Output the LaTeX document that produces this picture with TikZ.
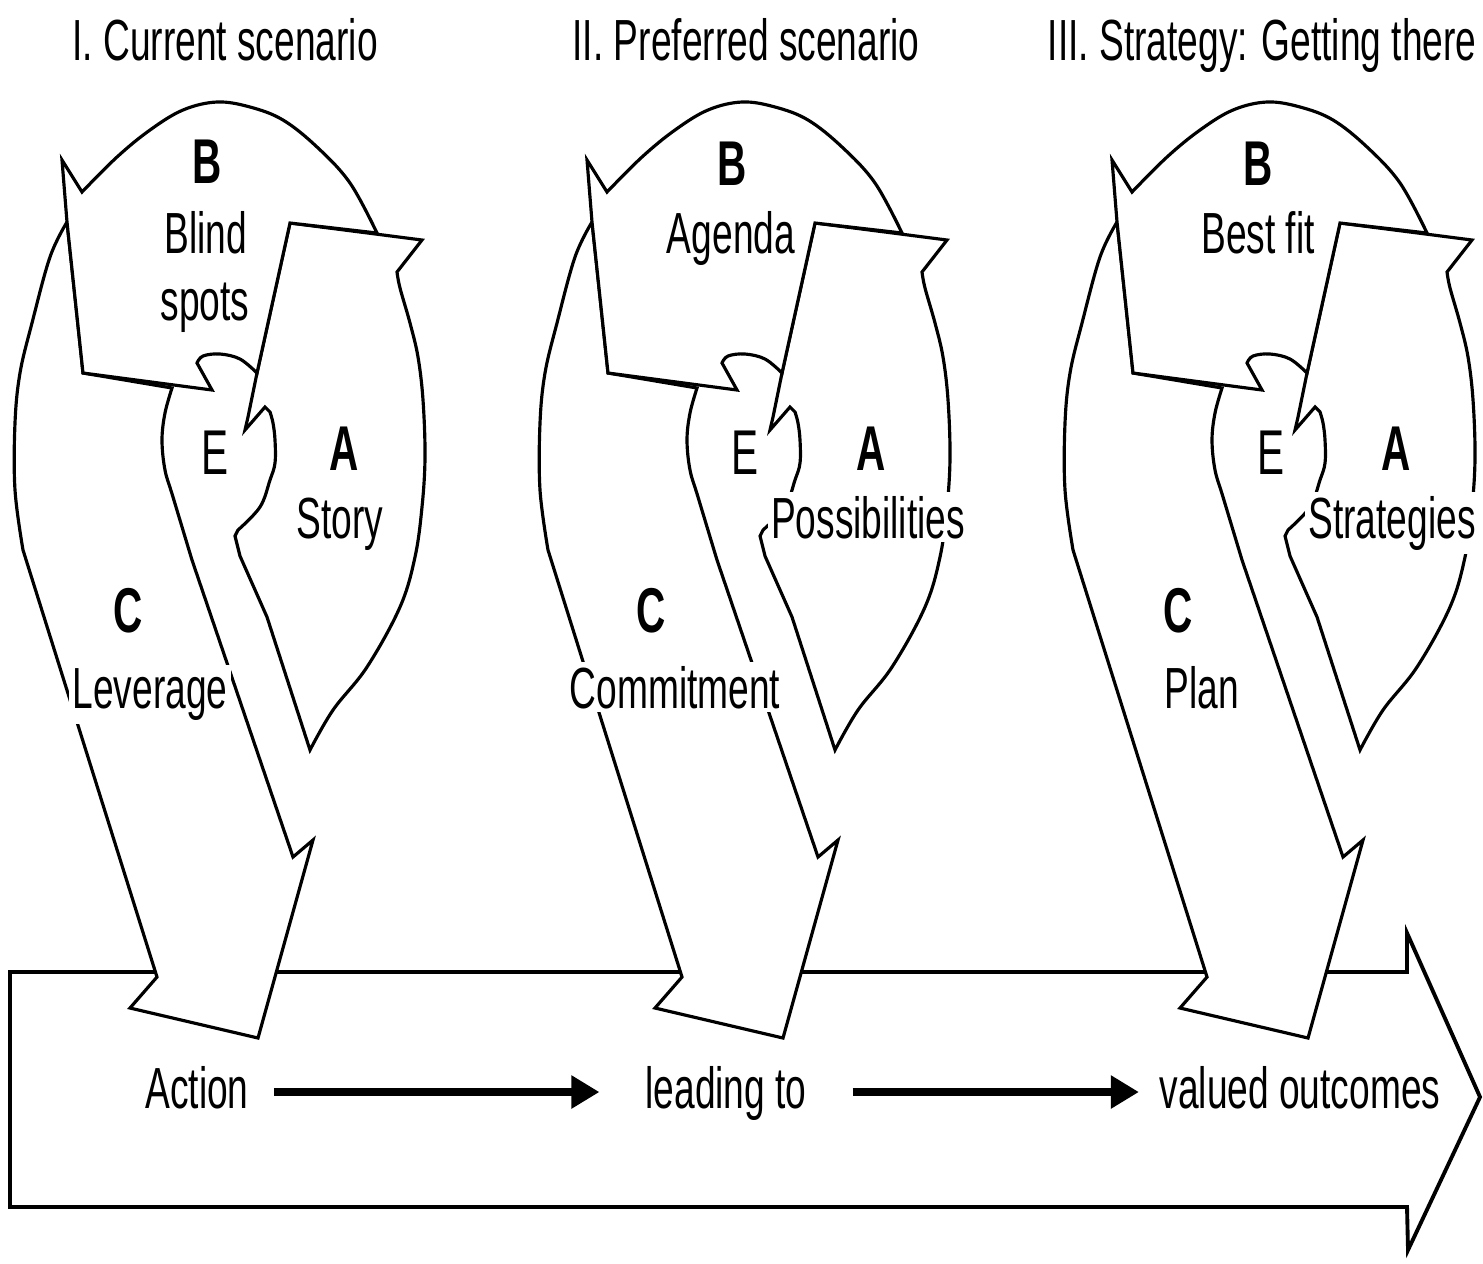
\documentclass[tikz,border=0pt]{standalone}
\usepackage{fontspec}
\setmainfont{Liberation Sans}
\newfontfamily\cnd[FakeStretch=0.64]{Liberation Sans}
\usetikzlibrary{arrows.meta}
\newcommand\egpanel[1]{%
\begin{scope}[shift={(#1,0)}]
% C arrow
\path[shp] plot[smooth,tension=0.6] coordinates {(67,222) (50,257) (32,323) (20,373) (15,423) (15,490) (23,550)}
  -- (157,977) -- (130,1008) -- (258,1038) -- (313,840) -- (293,857)
  -- plot[smooth,tension=0.6] coordinates {(192,560) (173,497) (165,470) (162,440) (165,413) (172,388)}
  -- (83,373) -- cycle;
% A arrow
\path[shp] plot[smooth,tension=0.6] coordinates {(310,750) (333,710) (367,667) (400,607) (415,557) (422,507) (425,457) (423,400) (418,357) (410,323) (400,288) (397,272)}
  -- (422,240) -- (290,223) -- (257,373) -- (248,417) -- (245,430) -- (265,407)
  -- plot[smooth,tension=0.6] coordinates {(270,412) (273,423) (275,440) (275,463) (270,480) (260,507) (238,530)}
  -- (235,536) -- (240,556) -- (267,617) -- cycle;
% B arrow
\path[shp] (62,160) -- plot[smooth,tension=0.6] coordinates {(82,192) (117,157) (150,130) (183,110) (217,102) (250,107) (283,120) (317,147) (350,183) (377,233)}
  -- (290,223) -- (257,373)
  -- plot[smooth,tension=0.6] coordinates {(257,373) (240,359) (220,354) (203,356) (197,363)}
  -- (212,390) -- (83,373) -- (67,222) -- cycle;
\end{scope}}
\begin{document}
\begin{tikzpicture}[x=0.01cm,y=-0.01cm,
  shp/.style={draw=black,fill=white,line width=0.9pt,line join=miter},
  lbl/.style={font=\cnd\fontsize{16.5}{18}\selectfont,inner sep=1pt,fill=white,anchor=base},
  ttl/.style={font=\cnd\fontsize{16.5}{18}\selectfont,inner sep=0pt,anchor=base},
  ltr/.style={font=\cnd\bfseries\fontsize{18}{20}\selectfont,inner sep=0pt,anchor=base},
  eltr/.style={font=\cnd\fontsize{18}{20}\selectfont,inner sep=0pt,anchor=base},
  btm/.style={font=\cnd\fontsize{16.5}{18}\selectfont,inner sep=0pt,text height=9.1pt,text depth=0pt,anchor=base},
  flow/.style={line width=2.3pt,-{Triangle[length=8pt,width=9pt]}},
]
\useasboundingbox[fill=white] (0,0) rectangle (1483,1263);
% big horizontal arrow
\draw[line width=1.1pt,line join=miter] (10,972) -- (1407,972) -- (1407,933) -- (1480,1097) -- (1408,1250) -- (1407,1207) -- (10,1207) -- cycle;
% three cycles
\egpanel{0}
\egpanel{525}
\egpanel{1050}
% panel I
\node[ttl] (t1) at (225,60) {I. Current scenario};
\node[ltr] (b1) at (207,183) {B};
\node[lbl] (bl1) at (206,253) {Blind};
\node[lbl] (sp1) at (205,320) {spots};
\node[eltr] (e1) at (215,474) {E};
\node[ltr] (a1) at (344,470) {A};
\node[lbl] (st1) at (340,538) {Story};
\node[ltr] (c1) at (128,632) {C};
\node[lbl] (lv1) at (150,708) {Leverage};
% panel II
\node[ttl] (t2) at (746,60) {II. Preferred scenario};
\node[ltr] (b2) at (732,185) {B};
\node[lbl] (ag2) at (731,253) {Agenda};
\node[eltr] (e2) at (745,474) {E};
\node[ltr] (a2) at (871,470) {A};
\node[lbl] (ps2) at (868,538) {Possibilities};
\node[ltr] (c2) at (651,632) {C};
\node[lbl] (cm2) at (675,708) {Commitment};
% panel III
\node[ttl] (t3) at (1262,60) {III. Strategy: Getting there};
\node[ltr] (b3) at (1258,185) {B};
\node[lbl] (bf3) at (1258,253) {Best fit};
\node[eltr] (e3) at (1271,474) {E};
\node[ltr] (a3) at (1396,470) {A};
\node[lbl] (sg3) at (1392,538) {Strategies};
\node[ltr] (c3) at (1178,632) {C};
\node[lbl] (pl3) at (1202,708) {Plan};
% bottom flow
\node[btm] (act) at (197,1108) {Action};
\node[btm] (lead) at (726,1108) {leading to};
\node[btm] (val) at (1300,1108) {valued outcomes};
\draw[flow,shorten <=7pt,shorten >=12.9pt] (act.east) -- (lead.west);
\draw[flow,shorten <=12.9pt,shorten >=5.7pt] (lead.east) -- (val.west);
\end{tikzpicture}
\end{document}
